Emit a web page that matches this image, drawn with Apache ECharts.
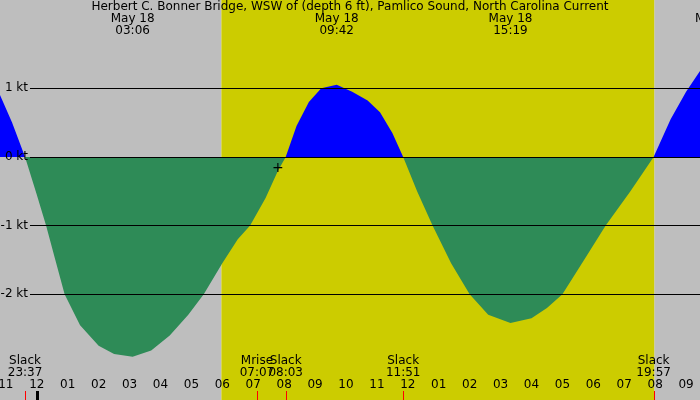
<!DOCTYPE html><html><head><meta charset="utf-8">
<script src="https://cdn.jsdelivr.net/npm/echarts@6/dist/echarts.min.js"></script>
<style>body{margin:0}#c{width:700px;height:400px}</style></head><body><div id="c"></div>
<script>
// time in hours after 23:00 (May 17)
const times = [-0.19,0.2,0.62,1.0,1.3,1.6,1.9,2.4,3.0,3.5,4.1,4.7,5.3,5.9,6.4,7.0,7.5,7.9,8.4,8.8,9.05,9.4,9.8,10.2,10.7,11.2,11.7,12.1,12.5,12.85,13.3,13.8,14.4,15.0,15.6,16.32,17.0,17.5,18.0,18.7,19.4,20.2,20.95,21.5,22.0,22.45];
const speeds = [0.9,0.5,0,-0.55,-1.0,-1.5,-2.0,-2.45,-2.75,-2.87,-2.91,-2.82,-2.6,-2.3,-2.0,-1.55,-1.2,-1.0,-0.6,-0.2,0,0.45,0.8,1.0,1.05,0.95,0.82,0.65,0.35,0,-0.5,-1.0,-1.55,-2.0,-2.3,-2.42,-2.35,-2.2,-2.0,-1.5,-1.0,-0.5,0,0.55,0.95,1.25];
const hourLabels = ['11','12','01','02','03','04','05','06','07','08','09','10','11','12','01','02','03','04','05','06','07','08','09'];
const dayStart = 6.97, dayEnd = 20.97;
const topLabels = [[4.1,'May 18','03:06'],[10.7,'May 18','09:42'],[16.32,'May 18','15:19'],[23.0,'May 18','21:00']];
const events = [[0.62,'Slack','23:37'],[8.12,'Mrise','07:07'],[9.05,'Slack','08:03'],[12.85,'Slack','11:51'],[20.95,'Slack','19:57']];
const redTicks = [0.62,8.12,9.05,12.85,20.95];
const title = 'Herbert C. Bonner Bridge, WSW of (depth 6 ft), Pamlico Sound, North Carolina Current';
const xmin=-0.19,xmax=22.45,ymin=-3.54,ymax=2.285;
const pos = times.map((t,i)=>[t,Math.max(speeds[i],0)]);
const neg = times.map((t,i)=>[t,Math.min(speeds[i],0)]);
const ch = echarts.init(document.getElementById('c'));
const F='DejaVu Sans';
ch.setOption({
 animation:false,
 grid:{left:0,right:0,top:0,bottom:0},
 xAxis:{type:'value',min:xmin,max:xmax,interval:1,
   axisLine:{show:false},splitLine:{show:false},
   axisTick:{show:true,inside:true,length:8,lineStyle:{color:'#000'}},
   axisLabel:{show:false}},
 yAxis:{type:'value',min:ymin,max:ymax,show:false},
 series:[
  {type:'line',data:[],markArea:{silent:true,itemStyle:{color:'#bebebe'},data:[[{xAxis:xmin},{xAxis:dayStart}],[{xAxis:dayEnd},{xAxis:xmax}]]}},
  {type:'line',data:[],markArea:{silent:true,itemStyle:{color:'#cccc00'},data:[[{xAxis:dayStart},{xAxis:dayEnd}]]}},
  {type:'line',data:pos,symbol:'none',lineStyle:{width:0},areaStyle:{color:'#0000ff',opacity:1,origin:0},z:3},
  {type:'line',data:neg,symbol:'none',lineStyle:{width:0},areaStyle:{color:'#2e8b57',opacity:1,origin:0},z:3},
  {type:'line',data:[],z:4,markLine:{silent:true,symbol:'none',lineStyle:{color:'#000',width:1,type:'solid'},label:{show:false},
    data:[1,0,-1,-2].map(v=>[{coord:[0.78,v]},{coord:[xmax,v]}])}}
 ]
});
const g=[];
const px=(t,v)=>ch.convertToPixel({gridIndex:0},[t,v]);
[1,0,-1,-2].forEach(v=>{const p=px(0,v);g.push({type:'text',x:28,y:p[1],style:{text:v+' kt',font:'12px '+F,fill:'#000',align:'right',verticalAlign:'middle'},z:10});});
g.push({type:'text',x:350,y:1,style:{text:title,font:'12px '+F,fill:'#000',align:'center',verticalAlign:'top'},z:10});
topLabels.forEach(a=>{const x=px(a[0],0)[0];g.push({type:'text',x:x,y:13,style:{text:a[1]+'\n'+a[2],font:'12px '+F,lineHeight:12,fill:'#000',align:'center',verticalAlign:'top'},z:10});});
events.forEach(a=>{const x=px(a[0],0)[0];g.push({type:'text',x:x,y:355,style:{text:a[1]+'\n'+a[2],font:'12px '+F,lineHeight:12,fill:'#000',align:'center',verticalAlign:'top'},z:10});});
hourLabels.forEach((l,i)=>{const x=px(i,0)[0];g.push({type:'text',x:x,y:379,style:{text:l,font:'12px '+F,fill:'#000',align:'center',verticalAlign:'top'},z:10});});
redTicks.forEach(t=>{const x=Math.round(px(t,0)[0])+0.5;g.push({type:'line',shape:{x1:x,y1:391,x2:x,y2:400},style:{stroke:'#ff0000',lineWidth:1},z:10});});
{const x=Math.round(px(1,0)[0]);g.push({type:'rect',shape:{x:x-1,y:391,width:3,height:9},style:{fill:'#000'},z:10});}
{const p=px(8.8,-0.17);g.push({type:'text',x:p[0],y:p[1],style:{text:'+',font:'14px '+F,fill:'#000',align:'center',verticalAlign:'middle'},z:10});}
ch.setOption({graphic:g});
</script></body></html>
